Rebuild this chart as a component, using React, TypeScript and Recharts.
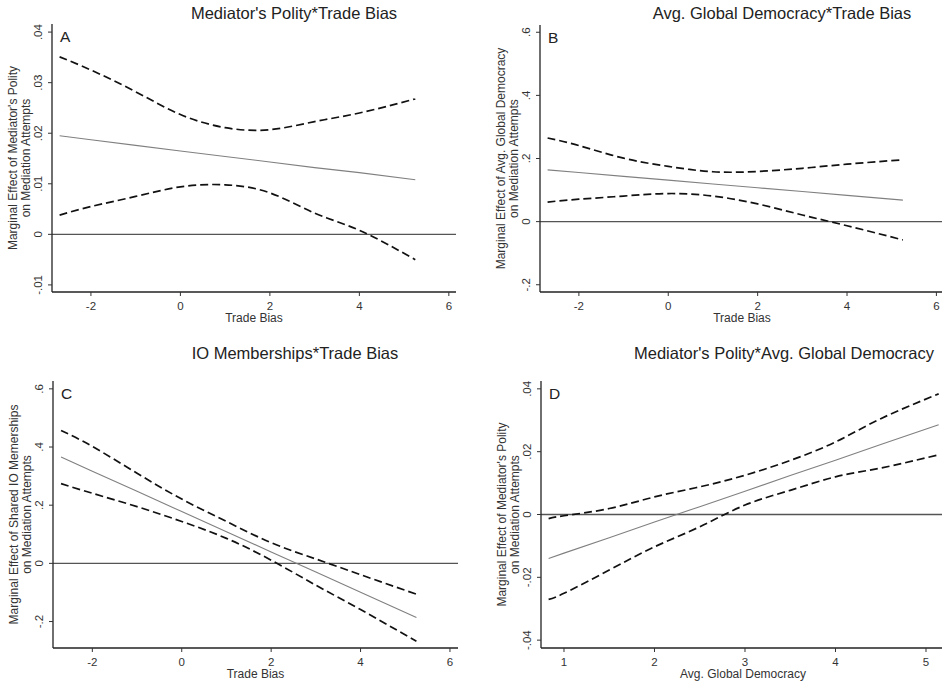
import React from 'react';
import { LineChart, Line, XAxis, YAxis, ReferenceLine } from 'recharts';

// ── data ─────────────────────────────────────────────────────────
const tradeBiasX = [-2.7, -2, -1, 0, 1, 2, 3, 4, 5.25];
const globalDemX = [0.83, 1, 1.5, 2, 2.5, 3, 3.5, 4, 4.5, 5.14];

// A: Mediator's Polity * Trade Bias
const polityTradeHi = [0.0351, 0.0325, 0.0282, 0.0237, 0.0211, 0.0207, 0.0223, 0.024, 0.0268];
const polityTradeMean = [0.0195, 0.0187, 0.0176, 0.0165, 0.0154, 0.0143, 0.0132, 0.0122, 0.0108];
const polityTradeLo = [0.0038, 0.0055, 0.0075, 0.0094, 0.0098, 0.0082, 0.0042, 0.0008, -0.005];

// B: Avg. Global Democracy * Trade Bias
const globalTradeHi = [0.265, 0.241, 0.201, 0.175, 0.158, 0.159, 0.169, 0.182, 0.196];
const globalTradeMean = [0.164, 0.1555, 0.1435, 0.1314, 0.1193, 0.1072, 0.0952, 0.0831, 0.068];
const globalTradeLo = [0.062, 0.071, 0.081, 0.089, 0.081, 0.056, 0.021, -0.013, -0.058];

// C: IO Memberships * Trade Bias
const ioTradeHi = [0.457, 0.402, 0.31, 0.221, 0.144, 0.071, 0.015, -0.039, -0.106];
const ioTradeMean = [0.366, 0.317, 0.248, 0.178, 0.109, 0.039, -0.03, -0.099, -0.186];
const ioTradeLo = [0.274, 0.241, 0.195, 0.144, 0.086, 0.011, -0.075, -0.159, -0.268];

// D: Mediator's Polity * Avg. Global Democracy
const polityGlobalHi = [-0.0013, -0.0004, 0.0019, 0.0056, 0.0088, 0.0125, 0.0172, 0.0231, 0.0305, 0.0384];
const polityGlobalMean = [-0.014, -0.0123, -0.0074, -0.0024, 0.0025, 0.0074, 0.0124, 0.0173, 0.0223, 0.0286];
const polityGlobalLo = [-0.027, -0.0251, -0.0177, -0.0103, -0.0039, 0.003, 0.0077, 0.012, 0.0148, 0.019];

// tick labels
const tradeTicks = [-2, 0, 2, 4, 6];
const demTicks = [1, 2, 3, 4, 5];
const polityTicksA = [-0.01, 0, 0.01, 0.02, 0.03, 0.04];
const globalTicksB = [-0.2, 0, 0.2, 0.4, 0.6];
const ioTicksC = [-0.2, 0, 0.2, 0.4, 0.6];
const polityTicksD = [-0.04, -0.02, 0, 0.02, 0.04];

const FONT = '"Liberation Sans", Arial, Helvetica, sans-serif';

function rows(xs: number[], lo: number[], mean: number[], hi: number[]) {
  return xs.map((x, i) => ({ x, lo: lo[i], mean: mean[i], hi: hi[i] }));
}

// stata style: drop the leading zero ("0.04" -> ".04")
function stataNum(v: number) {
  if (v === 0) return '0';
  const s = Math.abs(v).toString().replace(/^0/, '');
  return v < 0 ? '-' + s : s;
}

function RotatedTick({ x, y, payload }: any) {
  return (
    <text
      x={x}
      y={y}
      transform={`rotate(-90 ${x} ${y})`}
      textAnchor="middle"
      fontSize={11.5}
      fontFamily={FONT}
      fill="#333"
    >
      {stataNum(payload.value)}
    </text>
  );
}

const panels = [
  {
    key: 'A', title: "Mediator's Polity*Trade Bias", titleX: 294,
    yTitle: ["Marginal Effect of Mediator's Polity", 'on Mediation Attempts'], xTitle: 'Trade Bias',
    data: rows(tradeBiasX, polityTradeLo, polityTradeMean, polityTradeHi),
    xDomain: [-2.87, 6.16], xTicks: tradeTicks, yDomain: [-0.0114, 0.0416], yTicks: polityTicksA,
    left: 0, top: 0, width: 471, height: 341, yAxisW: 52, mt: 24, mr: 15, xh: 49,
  },
  {
    key: 'B', title: 'Avg. Global Democracy*Trade Bias', titleX: 782,
    yTitle: ['Marginal Effect of Avg. Global Democracy', 'on Mediation Attempts'], xTitle: 'Trade Bias',
    data: rows(tradeBiasX, globalTradeLo, globalTradeMean, globalTradeHi),
    xDomain: [-2.87, 6.17], xTicks: tradeTicks, yDomain: [-0.223, 0.623], yTicks: globalTicksB,
    left: 470, top: 0, width: 480, height: 341, yAxisW: 70, mt: 25, mr: 6, xh: 49,
  },
  {
    key: 'C', title: 'IO Memberships*Trade Bias', titleX: 295,
    yTitle: ['Marginal Effect of Shared IO Memerships', 'on Mediation Attempts'], xTitle: 'Trade Bias',
    data: rows(tradeBiasX, ioTradeLo, ioTradeMean, ioTradeHi),
    xDomain: [-2.88, 6.18], xTicks: tradeTicks, yDomain: [-0.291, 0.627], yTicks: ioTicksC,
    left: 0, top: 340, width: 471, height: 343, yAxisW: 53, mt: 41, mr: 13, xh: 35,
  },
  {
    key: 'D', title: "Mediator's Polity*Avg. Global Democracy", titleX: 784,
    yTitle: ["Marginal Effect of Mediator's Polity", 'on Mediation Attempts'], xTitle: 'Avg. Global Democracy',
    data: rows(globalDemX, polityGlobalLo, polityGlobalMean, polityGlobalHi),
    xDomain: [0.746, 5.21], xTicks: demTicks, yDomain: [-0.0425, 0.0425], yTicks: polityTicksD,
    left: 470, top: 340, width: 480, height: 343, yAxisW: 71, mt: 41, mr: 5, xh: 35,
  },
];

function Panel({ p }: { p: any }) {
  return (
    <div style={{ position: 'absolute', left: p.left, top: p.top }}>
      <LineChart
        width={p.width}
        height={p.height}
        data={p.data}
        margin={{ top: p.mt, right: p.mr, left: 0, bottom: 0 }}
      >
        <XAxis
          type="number"
          dataKey="x"
          domain={p.xDomain}
          ticks={p.xTicks}
          height={p.xh}
          tickSize={4}
          tickMargin={6}
          axisLine={{ stroke: '#222', strokeWidth: 1.3 }}
          tickLine={{ stroke: '#333' }}
          tick={{ fontSize: 11.5, fontFamily: FONT, fill: '#333' }}
          allowDataOverflow
        />
        {/* top border of the plot region */}
        <XAxis
          xAxisId="top"
          orientation="top"
          type="number"
          domain={p.xDomain}
          height={0}
          tick={false}
          tickLine={false}
          axisLine={{ stroke: '#8a8a8a', strokeWidth: 2 }}
        />
        <YAxis
          type="number"
          domain={p.yDomain}
          ticks={p.yTicks}
          width={p.yAxisW}
          tickSize={4}
          tickMargin={6}
          axisLine={{ stroke: '#222', strokeWidth: 1.3 }}
          tickLine={{ stroke: '#333' }}
          tick={<RotatedTick />}
          allowDataOverflow
        />
        {/* right border of the plot region */}
        <YAxis
          yAxisId="right"
          orientation="right"
          type="number"
          domain={p.yDomain}
          width={0}
          tick={false}
          tickLine={false}
          axisLine={{ stroke: '#333', strokeWidth: 1.3 }}
        />
        <ReferenceLine y={0} stroke="#555" strokeWidth={1.3} />
        <Line type="linear" dataKey="mean" stroke="#808080" strokeWidth={1.1} dot={false} isAnimationActive={false} />
        <Line type="natural" dataKey="hi" stroke="#111" strokeWidth={1.7} strokeDasharray="8 4" dot={false} isAnimationActive={false} />
        <Line type="natural" dataKey="lo" stroke="#111" strokeWidth={1.7} strokeDasharray="8 4" dot={false} isAnimationActive={false} />
      </LineChart>
    </div>
  );
}

export default function App() {
  return (
    <div
      style={{
        position: 'absolute', left: 0, top: 0, width: 942, height: 683,
        overflow: 'hidden', background: '#fff',
      }}
    >
      {panels.map((p) => <Panel key={p.key} p={p} />)}

      {/* titles, panel letters and axis titles */}
      <svg width={942} height={683} style={{ position: 'absolute', left: 0, top: 0, pointerEvents: 'none' }}>
        {panels.map((p) => {
          const plotLeft = p.left + p.yAxisW;
          const plotTop = p.top + p.mt;
          const plotRight = p.left + p.width - p.mr;
          const plotBottom = p.top + p.height - p.xh;
          const cy = (plotTop + plotBottom) / 2;
          const cx = (plotLeft + plotRight) / 2;
          return (
            <g key={p.key} fontFamily={FONT}>
              <text x={p.titleX} y={p.top + 18.5} textAnchor="middle" fontSize={16.5} fill="#222">
                {p.title}
              </text>
              <text x={plotLeft + 8} y={plotTop + 18} fontSize={15.5} fill="#222">
                {p.key}
              </text>
              {p.yTitle.map((t: string, i: number) => {
                const bx = plotLeft - (i === 0 ? 35 : 22);
                return (
                  <text key={i} x={bx} y={cy} transform={`rotate(-90 ${bx} ${cy})`} textAnchor="middle" fontSize={12} fill="#333">
                    {t}
                  </text>
                );
              })}
              <text x={cx} y={plotBottom + 29.5} textAnchor="middle" fontSize={12} fill="#333">
                {p.xTitle}
              </text>
            </g>
          );
        })}
      </svg>
    </div>
  );
}
